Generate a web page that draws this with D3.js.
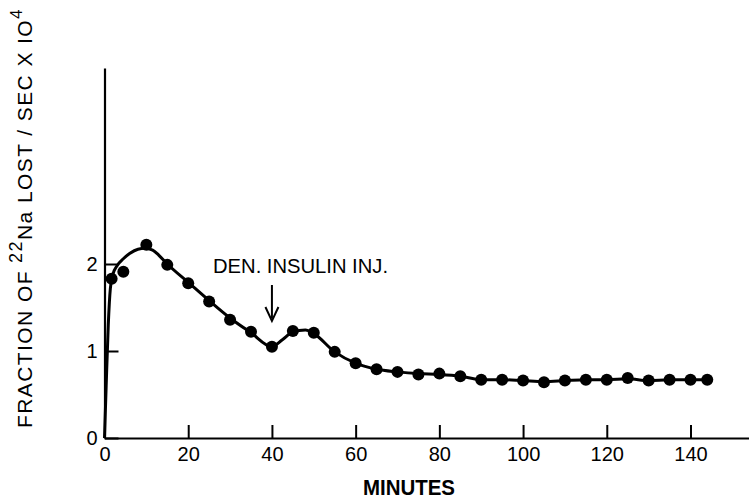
<!DOCTYPE html>
<html>
<head>
<meta charset="utf-8">
<script src="https://cdn.jsdelivr.net/npm/d3@7"></script>
<style>
  html, body { margin: 0; padding: 0; background: #fff; }
  svg { display: block; }
  text { font-family: "Liberation Sans", Arial, Helvetica, sans-serif; fill: #000; }
</style>
</head>
<body>
<svg id="chart" width="749" height="501"></svg>
<script>
// Measured points (minutes, fraction of 22Na lost/sec x 10^4)
const pointMinutes = [1.7, 4.5, 10, 15, 20, 25, 30, 35, 40, 45, 50, 55, 60, 65, 70, 75, 80, 85, 90, 95, 100, 105, 110, 115, 120, 125, 130, 135, 140, 144];
const pointValues  = [1.83, 1.91, 2.22, 1.99, 1.78, 1.57, 1.36, 1.22, 1.05, 1.23, 1.21, 0.99, 0.86, 0.79, 0.76, 0.73, 0.74, 0.71, 0.67, 0.67, 0.66, 0.64, 0.66, 0.67, 0.67, 0.69, 0.66, 0.67, 0.67, 0.67];

// Fitted curve drawn through the data
const curveMinutes = [0, 0.4, 0.9, 1.4, 2, 3, 4.5, 6, 8, 9.7, 11.5, 13, 15, 20, 25, 30, 35, 40, 42.5, 45, 48, 50, 55, 60, 65, 70, 75, 80, 85, 90, 95, 100, 105, 110, 115, 120, 125, 130, 135, 140, 144];
const curveValues  = [0, 0.6, 1.3, 1.72, 1.88, 1.98, 2.06, 2.12, 2.17, 2.18, 2.16, 2.1, 2.0, 1.79, 1.58, 1.38, 1.21, 1.05, 1.13, 1.22, 1.24, 1.2, 0.99, 0.86, 0.79, 0.76, 0.74, 0.73, 0.71, 0.67, 0.67, 0.66, 0.65, 0.66, 0.67, 0.67, 0.68, 0.66, 0.67, 0.67, 0.67];

const xTicks = [0, 20, 40, 60, 80, 100, 120, 140];
const yTicks = [0, 1, 2];
const annotationText = "DEN. INSULIN INJ.";
const annotationMinute = 40;

const svg = d3.select("#chart");

const x = d3.scaleLinear().domain([0, 140]).range([104.5, 690.5]);
const y = d3.scaleLinear().domain([0, 2]).range([438, 264]);
const xMax = x.invert(749);
const yMax = y.invert(68);

// X axis
const gx = svg.append("g").attr("transform", `translate(0,${y(0)})`);
gx.call(d3.axisBottom(x.copy().domain([0, xMax]).range([x(0), 749]))
  .tickValues(xTicks).tickSizeInner(-13).tickSizeOuter(0).tickPadding(9)
  .tickFormat(d3.format("d")));
gx.select(".domain").attr("stroke", "#000").attr("stroke-width", 2.2);
gx.selectAll(".tick line").attr("stroke", "#000").attr("stroke-width", 2);
gx.selectAll(".tick text").attr("font-size", 20).attr("font-family", "Liberation Sans, Arial, sans-serif");

// Y axis
const gy = svg.append("g").attr("transform", `translate(${x(0)},0)`);
gy.call(d3.axisLeft(y.copy().domain([0, yMax]).range([y(0), 68]))
  .tickValues(yTicks).tickSizeInner(-14).tickSizeOuter(0).tickPadding(7)
  .tickFormat(d3.format("d")));
gy.select(".domain").attr("stroke", "#000").attr("stroke-width", 2.2);
gy.selectAll(".tick line").attr("stroke", "#000").attr("stroke-width", 2);
gy.selectAll(".tick text").attr("font-size", 20).attr("font-family", "Liberation Sans, Arial, sans-serif");

// Fitted curve
const curveData = curveMinutes.map((m, i) => [m, curveValues[i]]);
svg.append("path")
  .datum(curveData)
  .attr("fill", "none")
  .attr("stroke", "#000")
  .attr("stroke-width", 3)
  .attr("stroke-linejoin", "round")
  .attr("d", d3.line().x(d => x(d[0])).y(d => y(d[1])).curve(d3.curveMonotoneX));

// Points
svg.append("g").selectAll("circle")
  .data(pointMinutes.map((m, i) => [m, pointValues[i]]))
  .join("circle")
  .attr("cx", d => x(d[0]))
  .attr("cy", d => y(d[1]))
  .attr("r", 6)
  .attr("fill", "#000");

// Annotation
svg.append("text")
  .attr("x", 213).attr("y", 273)
  .attr("font-size", 20)
  .attr("textLength", 175).attr("lengthAdjust", "spacingAndGlyphs")
  .text(annotationText);
const ax = x(annotationMinute);
svg.append("line")
  .attr("x1", ax).attr("x2", ax).attr("y1", 285).attr("y2", 318)
  .attr("stroke", "#000").attr("stroke-width", 2);
svg.append("path")
  .attr("d", `M${ax - 6.5},${307} L${ax},${321} L${ax + 6.5},${307}`)
  .attr("fill", "none").attr("stroke", "#000").attr("stroke-width", 2);

// X axis title
svg.append("text")
  .attr("x", 409).attr("y", 495)
  .attr("text-anchor", "middle")
  .attr("font-size", 22).attr("font-weight", "bold")
  .attr("textLength", 92).attr("lengthAdjust", "spacingAndGlyphs")
  .text("MINUTES");

// Y axis title
const yt = svg.append("text")
  .attr("transform", "translate(32,428) rotate(-90)")
  .attr("font-size", 21);
yt.append("tspan").text("FRACTION OF ");
yt.append("tspan").attr("font-size", 18).attr("dy", -10).text("22");
yt.append("tspan").attr("dy", 10).text("Na LOST / SEC X IO");
yt.append("tspan").attr("font-size", 17).attr("dy", -10).text("4");
const len = yt.node().getComputedTextLength();
const target = 420;
const chars = yt.text().length;
yt.attr("letter-spacing", Math.max(0, (target - len) / chars));
</script>
</body>
</html>
